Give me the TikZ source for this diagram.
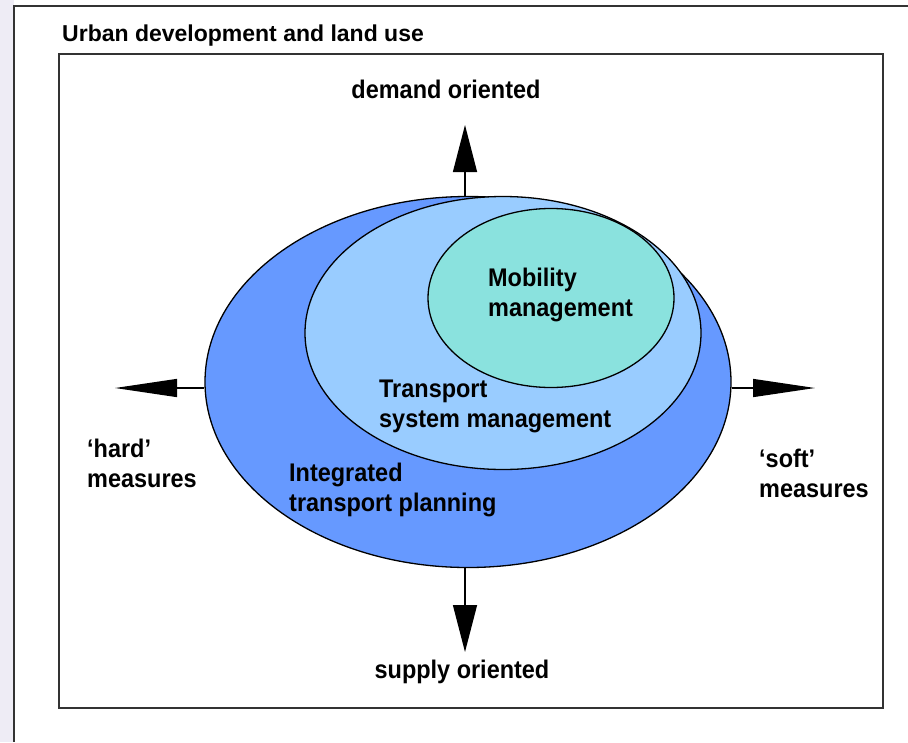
\documentclass[tikz,border=0pt]{standalone}
\usepackage{fontspec}
\setmainfont{Liberation Sans}
\newfontfamily\lblfont{Liberation Sans}[FakeStretch=0.92]
\usetikzlibrary{arrows.meta,shapes.geometric}
\definecolor{itp_blue}{RGB}{102, 153, 255}
\definecolor{tsm_blue}{RGB}{153, 204, 255}
\definecolor{mm_teal}{RGB}{138, 226, 222}
\definecolor{frame_grey}{RGB}{51, 51, 51}
\definecolor{slide_edge}{RGB}{238, 236, 245}
\tikzstyle{ring}=[ellipse,draw=black,line width=1.3pt,inner sep=0pt]
\tikzstyle{lbl}=[font=\lblfont\bfseries\fontsize{25.5}{30}\selectfont,
  align=left,inner sep=0pt,anchor=base west]
\tikzstyle{vert}=[line width=1.4pt,-{Triangle[length=47pt,width=24pt]}]
\tikzstyle{horiz}=[line width=1.4pt,-{Triangle[length=62pt,width=18pt]}]
\tikzstyle{none}=[]

\begin{document}
\begin{tikzpicture}[x=1pt,y=-1pt]
    \useasboundingbox (0, 0) rectangle (908, 742);
    % slide edge and frames
    \fill [slide_edge] (0, 0) rectangle (14, 742);
    \draw [frame_grey,line width=2pt] (908, 6) -- (14, 6) -- (14, 742);
    \draw [frame_grey,line width=2pt] (59, 54) rectangle (883, 708);
    \node [style=lbl,font=\bfseries\fontsize{23}{28}\selectfont] (0) at (62, 41) {Urban development and land use};
    % nested fields (base anchor sits on the last line)
    \node [style=ring,fill=itp_blue,minimum width=526pt,minimum height=371pt] (1) at (468, 382) {};
    \node [style=ring,fill=tsm_blue,minimum width=396pt,minimum height=273pt] (2) at (503, 333) {};
    \node [style=ring,fill=mm_teal,minimum width=246pt,minimum height=179pt] (3) at (551, 298) {};
    \node [style=lbl] (4) at (488, 316) {Mobility\\management};
    \node [style=lbl] (5) at (379, 427) {Transport\\system management};
    \node [style=lbl] (6) at (289, 511) {Integrated\\transport planning};
    % the four directions
    \node [style=none] (7) at (465, 125) {};
    \node [style=none] (8) at (465, 652) {};
    \node [style=none] (9) at (115, 388) {};
    \node [style=none] (10) at (815, 388) {};
    \draw [style=vert] (1.north -| 7.center) to (7.center);
    \draw [style=vert] (1.south -| 8.center) to (8.center);
    \draw [style=horiz] (1.west |- 9.center) to (9.center);
    \draw [style=horiz] (1.east |- 10.center) to (10.center);
    \node [style=lbl,anchor=base] (11) at (446, 98) {demand oriented};
    \node [style=lbl,anchor=base] (12) at (462, 678) {supply oriented};
    \node [style=lbl] (13) at (87, 487) {‘hard’\\measures};
    \node [style=lbl] (14) at (759, 497) {‘soft’\\measures};
\end{tikzpicture}
\end{document}
